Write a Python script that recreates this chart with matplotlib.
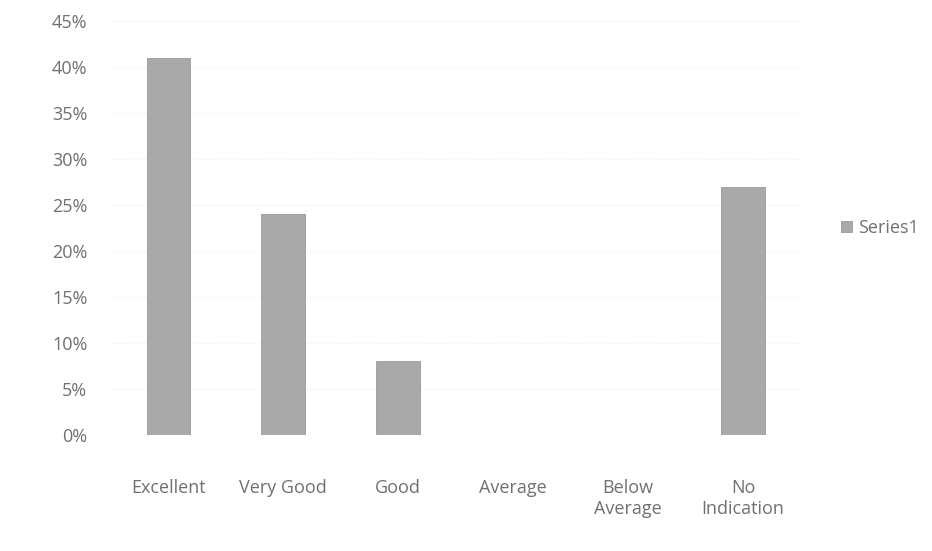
import matplotlib
matplotlib.use("Agg")
import matplotlib.pyplot as plt
from matplotlib.ticker import PercentFormatter

categories = ["Excellent", "Very Good", "Good", "Average", "Below\nAverage", "No\nIndication"]
values = [0.41, 0.24, 0.08, 0.0, 0.0, 0.27]
y_ticks = [0.0, 0.05, 0.10, 0.15, 0.20, 0.25, 0.30, 0.35, 0.40, 0.45]

plt.rcParams['font.family'] = ['Open Sans', 'DejaVu Sans']
text_color = '#707070'

fig = plt.figure(figsize=(9.32, 5.51), dpi=100)
ax = fig.add_axes([0.119, 0.2105, 0.74, 0.7515])

x = range(len(categories))
ax.bar(x, values, width=0.38, color='#a9a9a9', edgecolor='#9a9a9a',
       linewidth=0.6, label='Series1', zorder=3)

ax.set_xlim(-0.5, len(categories) - 0.5)
ax.set_ylim(0, 0.45)
ax.set_yticks(y_ticks)
ax.yaxis.set_major_formatter(PercentFormatter(1.0, decimals=0))
ax.set_xticks(list(x))
ax.set_xticklabels(categories, linespacing=1.15)

ax.grid(axis='y', color='#f0f0f0', linestyle=':', linewidth=1.0, zorder=0)
for s in ax.spines.values():
    s.set_visible(False)
ax.tick_params(axis='both', length=0, colors=text_color, labelsize=13)
ax.tick_params(axis='x', pad=32)
ax.tick_params(axis='y', pad=17)

ax.legend(loc='center left', bbox_to_anchor=(1.035, 0.5), frameon=False,
          fontsize=13, labelcolor=text_color, handlelength=0.6,
          handleheight=0.6, handletextpad=0.35)

fig.savefig("out.png", dpi=100, facecolor='white')
